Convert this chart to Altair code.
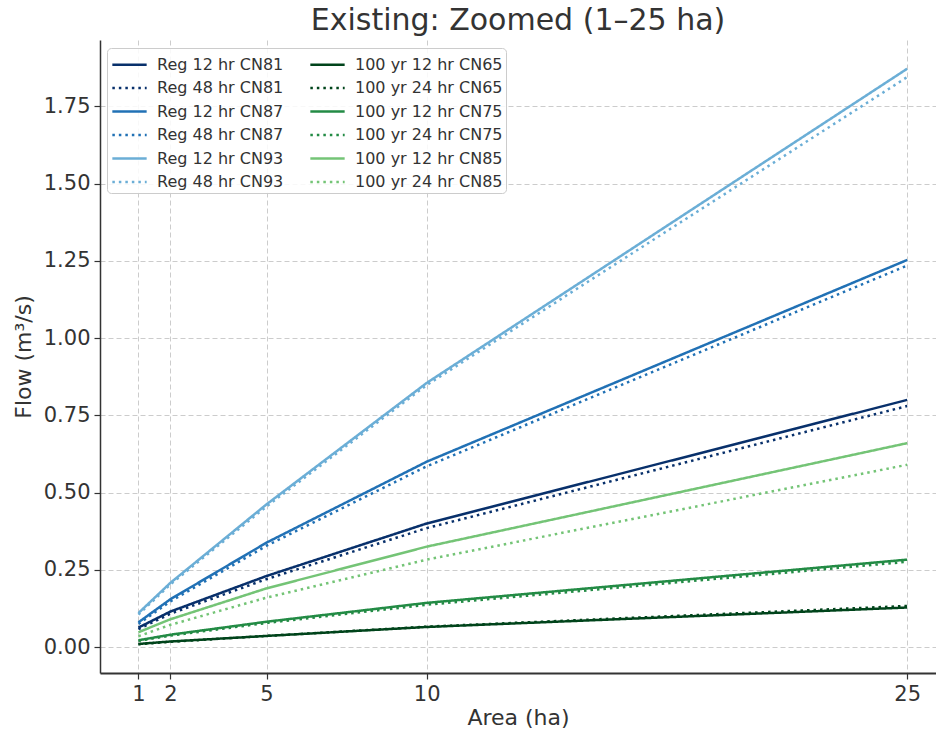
import altair as alt
import pandas as pd

area = [1, 2, 5, 10, 25]

series_names = [
    "Reg 12 hr CN81", "Reg 48 hr CN81",
    "Reg 12 hr CN87", "Reg 48 hr CN87",
    "Reg 12 hr CN93", "Reg 48 hr CN93",
    "100 yr 12 hr CN65", "100 yr 24 hr CN65",
    "100 yr 12 hr CN75", "100 yr 24 hr CN75",
    "100 yr 12 hr CN85", "100 yr 24 hr CN85",
]

reg12_cn81 = [0.063, 0.115, 0.230, 0.400, 0.800]
reg48_cn81 = [0.058, 0.108, 0.220, 0.385, 0.780]
reg12_cn87 = [0.080, 0.155, 0.338, 0.600, 1.253]
reg48_cn87 = [0.075, 0.148, 0.328, 0.585, 1.235]
reg12_cn93 = [0.110, 0.208, 0.462, 0.855, 1.872]
reg48_cn93 = [0.105, 0.203, 0.455, 0.848, 1.845]
y100_12_cn65 = [0.010, 0.018, 0.036, 0.065, 0.128]
y100_24_cn65 = [0.009, 0.017, 0.036, 0.066, 0.133]
y100_12_cn75 = [0.022, 0.040, 0.082, 0.143, 0.283]
y100_24_cn75 = [0.020, 0.037, 0.078, 0.137, 0.276]
y100_12_cn85 = [0.048, 0.090, 0.190, 0.325, 0.660]
y100_24_cn85 = [0.035, 0.072, 0.160, 0.283, 0.590]

series_values = [
    reg12_cn81, reg48_cn81, reg12_cn87, reg48_cn87, reg12_cn93, reg48_cn93,
    y100_12_cn65, y100_24_cn65, y100_12_cn75, y100_24_cn75, y100_12_cn85, y100_24_cn85,
]

series_colors = [
    "#08306b", "#08306b", "#2171b5", "#2171b5", "#6baed6", "#6baed6",
    "#00441b", "#00441b", "#238b45", "#238b45", "#74c476", "#74c476",
]
series_dotted = [False, True] * 6

rows = []
for name, vals in zip(series_names, series_values):
    for a, v in zip(area, vals):
        rows.append({"series": name, "area": a, "flow": v})
df = pd.DataFrame(rows)

dash_range = [[2.5, 4] if d else [1, 0] for d in series_dotted]

font = "DejaVu Sans"
txt = "#333333"

chart = (
    alt.Chart(df)
    .mark_line(strokeWidth=2.5, clip=True)
    .encode(
        x=alt.X(
            "area:Q",
            title="Area (ha)",
            scale=alt.Scale(domain=[-0.2, 25.9], nice=False, zero=False),
            axis=alt.Axis(values=area, format="d"),
        ),
        y=alt.Y(
            "flow:Q",
            title="Flow (m³/s)",
            scale=alt.Scale(domain=[-0.084, 1.965], nice=False, zero=False),
            axis=alt.Axis(values=[0, 0.25, 0.5, 0.75, 1.0, 1.25, 1.5, 1.75], format=".2f"),
        ),
        color=alt.Color(
            "series:N",
            sort=series_names,
            scale=alt.Scale(domain=series_names, range=series_colors),
            legend=alt.Legend(
                title=None,
                orient="none",
                legendX=7,
                legendY=8,
                columns=2,
                columnPadding=21,
                rowPadding=1.5,
                symbolType="M-1.45,0L1.45,0",
                symbolSize=560,
                symbolStrokeWidth=2.5,
                symbolOffset=6,
                labelOffset=14,
                labelFont=font,
                labelFontSize=16,
                labelColor=txt,
                fillColor="rgba(255,255,255,0.85)",
                strokeColor="#cccccc",
                cornerRadius=4,
                padding=3,
                labelLimit=300,
            ),
        ),
        strokeDash=alt.StrokeDash(
            "series:N",
            sort=series_names,
            scale=alt.Scale(domain=series_names, range=dash_range),
            legend=None,
        ),
        order=alt.Order("area:Q"),
    )
    .properties(
        width=836,
        height=633,
        padding={"left": 100, "top": 40, "right": 0, "bottom": 63},
        autosize=alt.AutoSizeParams(type="none"),
        title=alt.Title(
            "Existing: Zoomed (1–25 ha)",
            font=font,
            fontSize=30,
            fontWeight="normal",
            color=txt,
            anchor="middle",
            offset=4,
        ),
    )
    .configure_view(stroke=None)
    .configure_axis(
        labelFont=font,
        labelFontSize=21,
        labelColor=txt,
        titleFont=font,
        titleFontSize=22,
        titleFontWeight="normal",
        titleColor=txt,
        domainColor="#333333",
        domainWidth=1.5,
        tickColor="#333333",
        tickSize=6,
        tickWidth=1.2,
        gridColor="#cccccc",
        gridDash=[5, 3],
        gridWidth=1,
        labelPadding=4,
    )
    .configure_axisX(titlePadding=3, domainWidth=2)
    .configure_axisY(titlePadding=8)
)

chart.save("out.html", embed_options={"renderer": "svg", "actions": False})
